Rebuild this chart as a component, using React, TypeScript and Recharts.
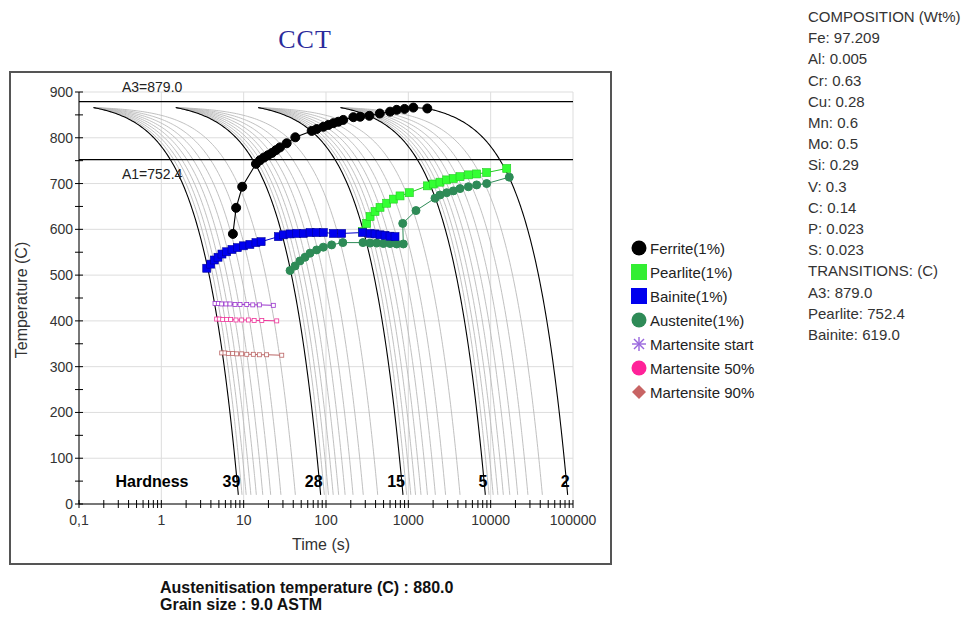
import React from 'react'
import {
  LineChart,
  Line,
  XAxis,
  YAxis,
  CartesianGrid,
  ReferenceLine,
  ReferenceDot,
} from 'recharts'

// axes
const decades = [0.1, 1, 10, 100, 1000, 10000, 100000]
const decadeLabels = ['0,1', '1', '10', '100', '1000', '10000', '100000']
const minorSteps = [2, 3, 4, 5, 6, 7, 8, 9]
const tempTicks = [0, 50, 100, 150, 200, 250, 300, 350, 400, 450, 500, 550, 600, 650, 700, 750, 800, 850, 900]
const tempGrid = [0, 100, 200, 300, 400, 500, 600, 700, 800, 900]

// cooling curves (constant rate, C/s), one dark curve per family
const darkRates = [100, 10, 1, 0.1, 0.01]
const familyStart = [0.15, 1.5, 15, 150, 1500]
const grayFractions = [0.9, 0.8, 0.7, 0.6, 0.5, 0.4, 0.3, 0.2]
const grayFamilies = 4
const hardness = ['39', '28', '15', '5', '2']
const coolStart = 866
const coolEnd = 20

const A3 = 879.0
const A1 = 752.4

// transformation start lines [time s, temp C]
const ferrite: [number, number][] = [
  [7.4, 590], [8.1, 647], [9.6, 693], [14.1, 743], [15.8, 751], [17.7, 757], [19.8, 762],
  [22.1, 767], [24.7, 773], [27.6, 779], [33.3, 788], [42.4, 801], [67, 815], [77, 819],
  [93, 824], [107, 828], [123, 832], [141, 835], [162, 839], [215, 845], [260, 846],
  [336, 848], [450, 853], [600, 857], [722, 861], [900, 863], [1150, 866], [1700, 864],
]
const pearlite: [number, number][] = [
  [279, 595], [312, 613], [343, 628], [394, 639], [453, 648], [546, 657], [658, 666],
  [793, 673], [1028, 680], [1702, 695], [2014, 699], [2424, 703], [2922, 708], [3519, 711],
  [4244, 715], [5358, 719], [6761, 721], [8946, 724], [15670, 733],
]
const bainite: [number, number][] = [
  [3.56, 515], [3.98, 524], [4.4, 533], [4.88, 539], [5.45, 546], [6.22, 551], [7.21, 556],
  [8.38, 560], [9.91, 564], [11.9, 567], [14.1, 571], [16.3, 573], [26.4, 584], [30.3, 588],
  [36.6, 590], [44.1, 591], [53, 591], [64, 593], [77, 593], [92.7, 593], [123, 591],
  [155, 591], [279, 593], [343, 591], [394, 590], [453, 588], [521, 587], [599, 585], [689, 584],
]
const austenite: [number, number][] = [
  [36.6, 510], [42.1, 520], [48.3, 531], [55.6, 539], [64, 548], [77, 555], [92.7, 561],
  [117, 566], [160, 571], [281, 571], [343, 570], [413, 570], [498, 569], [599, 569],
  [722, 568], [869, 568], [855, 613], [1239, 641], [2107, 668], [2424, 675], [2922, 680],
  [3519, 684], [4244, 689], [5358, 693], [6761, 697], [8946, 700], [16830, 714],
]
const msStart: [number, number][] = [
  [4.49, 438], [4.92, 438], [5.41, 437], [6.1, 437], [6.82, 437], [7.85, 436], [9.03, 436],
  [10.9, 436], [12.9, 435], [15.5, 435], [22.9, 434],
]
const ms50: [number, number][] = [
  [4.7, 404], [5.06, 404], [5.56, 403], [6.22, 403], [6.95, 403], [8.07, 402], [9.46, 402],
  [11.4, 402], [13.4, 401], [16.6, 401], [25.2, 400],
]
const ms90: [number, number][] = [
  [5.41, 330], [5.93, 330], [6.51, 329], [7.36, 329], [8.23, 328], [9.46, 328], [10.9, 327],
  [13.1, 327], [15.5, 326], [19.0, 326], [29.0, 325],
]

const composition = [
  'COMPOSITION (Wt%)', 'Fe: 97.209', 'Al: 0.005', 'Cr: 0.63', 'Cu: 0.28', 'Mn: 0.6', 'Mo: 0.5',
  'Si: 0.29', 'V: 0.3', 'C: 0.14', 'P: 0.023', 'S: 0.023', 'TRANSITIONS: (C)', 'A3: 879.0',
  'Pearlite: 752.4', 'Bainite: 619.0',
]

const legendItems = [
  { name: 'Ferrite(1%)', icon: 'circle', color: '#000000' },
  { name: 'Pearlite(1%)', icon: 'square', color: '#33ee33' },
  { name: 'Bainite(1%)', icon: 'square', color: '#0000ee' },
  { name: 'Austenite(1%)', icon: 'circle', color: '#2e8b57' },
  { name: 'Martensite start', icon: 'star', color: '#9966dd' },
  { name: 'Martensite 50%', icon: 'circle', color: '#ff2299' },
  { name: 'Martensite 90%', icon: 'diamond', color: '#c86464' },
]

const FONT = '"Liberation Sans", Arial, sans-serif'

const xTicks = decades.flatMap((d, i) =>
  i < decades.length - 1 ? [d, ...minorSteps.map((m) => d * m)] : [d]
)

const toPts = (arr: [number, number][]) => arr.map(([t, T]) => ({ t, T }))

// a constant-rate cooling line, sampled so it bends on the log time axis
function coolingCurve(rate: number, t0: number) {
  const tEnd = t0 + (coolStart - coolEnd) / rate
  const n = 90
  const ts: number[] = []
  for (let i = 0; i <= n; i++) {
    ts.push(t0 * Math.pow(tEnd / t0, i / n))
    ts.push(t0 + ((tEnd - t0) * i) / n)
  }
  ts.sort((a, b) => a - b)
  const out: { t: number; T: number }[] = []
  ts.forEach((t) => {
    if (out.length && t - out[out.length - 1].t < 1e-9) return
    out.push({ t, T: coolStart - rate * (t - t0) })
  })
  return { pts: out, tEnd }
}

const darkCurves = darkRates.map((r, i) => coolingCurve(r, familyStart[i]))
const grayCurves = darkRates.slice(0, grayFamilies).flatMap((r, i) =>
  grayFractions.map((f) => coolingCurve(r * f, familyStart[i]).pts)
)

function XTick({ x, y, payload }: any) {
  const i = decades.findIndex((d) => Math.abs(payload.value - d) < d * 1e-6)
  return (
    <g>
      <line x1={x} x2={x} y1={y - 4} y2={y + 4} stroke="#000" />
      {i >= 0 && (
        <text x={x} y={y + 16} textAnchor="middle" dominantBaseline="central" fontSize={14} fill="#333" fontFamily={FONT}>
          {decadeLabels[i]}
        </text>
      )}
    </g>
  )
}

function YTick({ x, y, payload }: any) {
  return (
    <g>
      <line x1={x - 4} x2={x + 4} y1={y} y2={y} stroke="#000" />
      {payload.value % 100 === 0 && (
        <text x={x - 6} y={y} textAnchor="end" dominantBaseline="central" fontSize={14} fill="#333" fontFamily={FONT}>
          {payload.value}
        </text>
      )}
    </g>
  )
}

function LineTag({ viewBox, text, dy }: any) {
  if (!viewBox) return null
  return (
    <text x={viewBox.x + 43} y={viewBox.y + dy} dominantBaseline="central" fontSize={14} fill="#222" fontFamily={FONT}>
      {text}
    </text>
  )
}

const circleDot = (fill: string, r: number) => (p: any) => (
  <circle key={`c${p.index}`} cx={p.cx} cy={p.cy} r={r} fill={fill} stroke={fill} />
)
const squareDot = (fill: string, stroke: string, s: number) => (p: any) => (
  <rect key={`s${p.index}`} x={p.cx - s / 2} y={p.cy - s / 2} width={s} height={s} fill={fill} stroke={stroke} strokeWidth={0.6} />
)
const hollowDot = (stroke: string) => (p: any) => (
  <rect key={`h${p.index}`} x={p.cx - 2} y={p.cy - 2} width={4} height={4} fill="#fff" stroke={stroke} strokeWidth={0.8} />
)

function LegendIcon({ icon, color }: { icon: string; color: string }) {
  return (
    <svg width={16} height={16} style={{ display: 'block' }}>
      {icon === 'circle' && <circle cx={8} cy={8} r={7.5} fill={color} />}
      {icon === 'square' && <rect x={0} y={0} width={16} height={16} fill={color} />}
      {icon === 'diamond' && <polygon points="8,1 15,8 8,15 1,8" fill={color} />}
      {icon === 'star' && (
        <g stroke={color} strokeWidth={1.4}>
          <line x1={8} y1={1} x2={8} y2={15} />
          <line x1={1} y1={8} x2={15} y2={8} />
          <line x1={3} y1={3} x2={13} y2={13} />
          <line x1={13} y1={3} x2={3} y2={13} />
        </g>
      )}
    </svg>
  )
}

export default function App() {
  return (
    <div style={{ position: 'absolute', left: 0, top: 0, width: 965, height: 618, background: '#fff', fontFamily: FONT }}>
      <div
        style={{
          position: 'absolute', left: 230, top: 24, width: 150, textAlign: 'center', lineHeight: '32px',
          fontFamily: '"Liberation Serif", "Times New Roman", serif', fontSize: 26, letterSpacing: 1, color: '#2b2b9b',
        }}
      >
        CCT
      </div>
      <div style={{ position: 'absolute', left: 9, top: 71, width: 599, height: 490, border: '2px solid #555' }} />

      <div style={{ position: 'absolute', left: 0, top: 0 }}>
        <LineChart width={965} height={618} margin={{ top: 92, right: 392, bottom: 84, left: 19 }}>
          <CartesianGrid stroke="#dddddd" horizontalValues={tempGrid} verticalValues={decades} />
          <XAxis
            dataKey="t"
            type="number"
            scale="log"
            domain={[0.1, 100000]}
            allowDataOverflow
            ticks={xTicks}
            interval={0}
            tick={<XTick />}
            tickLine={false}
            tickSize={0}
            tickMargin={0}
            axisLine={{ stroke: '#000' }}
            height={30}
          />
          <YAxis
            type="number"
            domain={[0, 900]}
            allowDataOverflow
            ticks={tempTicks}
            interval={0}
            tick={<YTick />}
            tickLine={false}
            tickSize={0}
            tickMargin={0}
            axisLine={{ stroke: '#000' }}
            width={60}
          />

          {grayCurves.map((pts, i) => (
            <Line key={`g${i}`} data={pts} dataKey="T" type="linear" stroke="#b9b9b9" strokeWidth={0.9} dot={false} activeDot={false} isAnimationActive={false} />
          ))}
          {darkCurves.map((c, i) => (
            <Line key={`d${i}`} data={c.pts} dataKey="T" type="linear" stroke="#000" strokeWidth={1.1} dot={false} activeDot={false} isAnimationActive={false} />
          ))}

          <ReferenceLine y={A3} stroke="#000" strokeWidth={1.2} label={<LineTag text="A3=879.0" dy={-15} />} />
          <ReferenceLine y={A1} stroke="#000" strokeWidth={1.2} label={<LineTag text="A1=752.4" dy={14} />} />

          <Line data={toPts(msStart)} dataKey="T" stroke="#9933cc" strokeWidth={1} dot={hollowDot('#9933cc')} activeDot={false} isAnimationActive={false} />
          <Line data={toPts(ms50)} dataKey="T" stroke="#ee3399" strokeWidth={1} dot={hollowDot('#ee3399')} activeDot={false} isAnimationActive={false} />
          <Line data={toPts(ms90)} dataKey="T" stroke="#bb6666" strokeWidth={1} dot={hollowDot('#bb6666')} activeDot={false} isAnimationActive={false} />

          <Line data={toPts(austenite)} dataKey="T" stroke="#2e8b57" strokeWidth={1} dot={circleDot('#2e8b57', 4)} activeDot={false} isAnimationActive={false} />
          <Line data={toPts(pearlite)} dataKey="T" stroke="#22cc22" strokeWidth={1} dot={squareDot('#33ff33', '#22cc22', 8)} activeDot={false} isAnimationActive={false} />
          <Line data={toPts(bainite)} dataKey="T" stroke="#0000cc" strokeWidth={1} dot={squareDot('#0000ee', '#000099', 8)} activeDot={false} isAnimationActive={false} />
          <Line data={toPts(ferrite)} dataKey="T" stroke="#000" strokeWidth={1.1} dot={circleDot('#000', 4.5)} activeDot={false} isAnimationActive={false} />

          <ReferenceDot
            x={0.77}
            y={50}
            r={0}
            shape={(p: any) => (
              <text x={p.cx} y={p.cy} textAnchor="middle" dominantBaseline="central" fontWeight="bold" fontSize={16} fill="#000" fontFamily={FONT}>
                Hardness
              </text>
            )}
          />
          {darkCurves.map((c, i) => (
            <ReferenceDot
              key={`hv${i}`}
              x={c.tEnd}
              y={50}
              r={0}
              shape={(p: any) => (
                <text x={p.cx + 2} y={p.cy} textAnchor="end" dominantBaseline="central" fontWeight="bold" fontSize={16} fill="#000" fontFamily={FONT}>
                  {hardness[i]}
                </text>
              )}
            />
          ))}
        </LineChart>
      </div>

      <div style={{ position: 'absolute', left: 246, top: 535, width: 150, textAlign: 'center', lineHeight: '20px', fontSize: 16, color: '#333' }}>
        Time (s)
      </div>
      <div
        style={{
          position: 'absolute', left: -58, top: 290, width: 160, height: 20, lineHeight: '20px', textAlign: 'center',
          fontSize: 16, color: '#333', transform: 'rotate(-90deg)',
        }}
      >
        Temperature (C)
      </div>

      {legendItems.map((it, i) => (
        <div key={it.name} style={{ position: 'absolute', left: 631, top: 236 + i * 24, height: 24, display: 'flex', alignItems: 'center' }}>
          <LegendIcon icon={it.icon} color={it.color} />
          <span style={{ marginLeft: 3, fontSize: 15, color: '#222', whiteSpace: 'nowrap' }}>{it.name}</span>
        </div>
      ))}

      <div style={{ position: 'absolute', left: 808, top: 6, fontSize: 15, lineHeight: '21.2px', color: '#333', whiteSpace: 'nowrap' }}>
        {composition.map((s) => (
          <div key={s}>{s}</div>
        ))}
      </div>

      <div style={{ position: 'absolute', left: 160, top: 579, fontSize: 16, lineHeight: '17px', fontWeight: 'bold', color: '#111', whiteSpace: 'nowrap' }}>
        <div>Austenitisation temperature (C) : 880.0</div>
        <div>Grain size : 9.0 ASTM</div>
      </div>
    </div>
  )
}
